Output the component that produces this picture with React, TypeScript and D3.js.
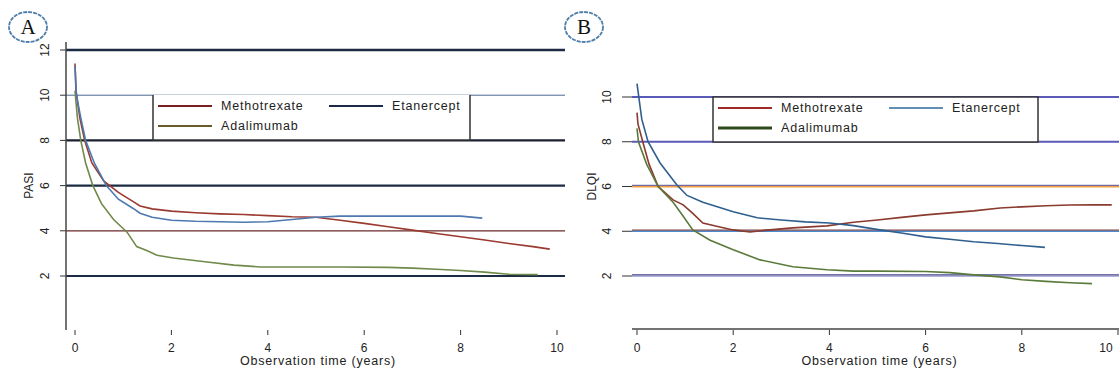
import React from "react";
import * as d3 from "d3";

// x ticks (years) and y ticks for both panels
const xTicks = [0, 2, 4, 6, 8, 10];
const pasiTicks = [2, 4, 6, 8, 10, 12];
const dlqiTicks = [2, 4, 6, 8, 10];
const seriesNames = ["Methotrexate", "Adalimumab", "Etanercept"];

// Panel A – PASI
const pasiMtxT = [0, 0.02, 0.1, 0.2, 0.35, 0.6, 0.9, 1.2, 1.35, 1.6, 2.0, 2.5, 3.0, 3.5, 4.0, 4.5, 5.0, 5.5, 6.0, 6.5, 7.0, 7.5, 8.0, 8.5, 9.0, 9.5, 9.85];
const pasiMtxV = [11.4, 10.2, 9.0, 8.0, 7.0, 6.2, 5.7, 5.3, 5.1, 4.97, 4.87, 4.8, 4.75, 4.72, 4.67, 4.62, 4.6, 4.47, 4.33, 4.18, 4.03, 3.88, 3.74, 3.59, 3.44, 3.3, 3.19];
const pasiEtaT = [0, 0.03, 0.12, 0.22, 0.4, 0.65, 0.9, 1.2, 1.35, 1.6, 2.0, 2.5, 3.0, 3.5, 4.0, 4.5, 5.0, 5.5, 6.0, 7.0, 8.0, 8.45];
const pasiEtaV = [11.3, 10.0, 9.0, 8.0, 7.0, 6.0, 5.4, 5.0, 4.78, 4.6, 4.47, 4.42, 4.4, 4.38, 4.4, 4.5, 4.6, 4.65, 4.65, 4.65, 4.65, 4.56];
const pasiAdaT = [0, 0.05, 0.12, 0.22, 0.37, 0.55, 0.8, 1.08, 1.28, 1.5, 1.7, 2.04, 2.74, 3.3, 3.84, 4.5, 5.5, 6.5, 7.0, 7.5, 8.0, 8.5, 9.0, 9.6];
const pasiAdaV = [10.2, 9.0, 8.0, 7.0, 6.0, 5.2, 4.5, 3.94, 3.3, 3.12, 2.92, 2.8, 2.62, 2.48, 2.4, 2.4, 2.4, 2.38, 2.35, 2.3, 2.24, 2.17, 2.08, 2.06];

// Panel B – DLQI
const dlqiMtxT = [0, 0.02, 0.12, 0.25, 0.44, 0.75, 0.96, 1.16, 1.37, 1.7, 2.0, 2.35, 2.7, 3.24, 3.95, 4.5, 5.0, 5.5, 6.0, 6.5, 7.0, 7.55, 8.0, 8.5, 9.0, 9.5, 9.87];
const dlqiMtxV = [9.3, 8.8, 8.0, 7.0, 6.0, 5.4, 5.18, 4.8, 4.37, 4.2, 4.06, 3.97, 4.05, 4.15, 4.24, 4.4, 4.5, 4.62, 4.73, 4.82, 4.91, 5.04, 5.09, 5.14, 5.17, 5.18, 5.18];
const dlqiEtaT = [0, 0.1, 0.23, 0.48, 0.83, 1.04, 1.37, 2.0, 2.5, 3.0, 3.5, 4.0, 4.5, 5.05, 5.5, 6.0, 6.5, 7.0, 7.5, 8.0, 8.48];
const dlqiEtaV = [10.6, 9.0, 8.0, 7.05, 6.07, 5.6, 5.3, 4.87, 4.6, 4.5, 4.42, 4.37, 4.25, 4.06, 3.92, 3.75, 3.64, 3.53, 3.45, 3.36, 3.28];
const dlqiAdaT = [0, 0.03, 0.2, 0.44, 0.75, 0.95, 1.16, 1.52, 2.0, 2.56, 3.24, 3.95, 4.5, 5.0, 6.0, 6.5, 7.0, 7.55, 8.0, 8.5, 9.0, 9.46];
const dlqiAdaV = [8.6, 8.0, 7.0, 6.0, 5.3, 4.7, 4.06, 3.6, 3.17, 2.72, 2.41, 2.28, 2.22, 2.22, 2.2, 2.15, 2.05, 1.96, 1.83, 1.76, 1.7, 1.66];

const zip = (t: number[], v: number[]) => t.map((d, i) => [d, v[i]] as [number, number]);

type Grid = { v: number; color: string; w: number; over?: string };

function Panel(props: any) {
  const { letter, lx, ly, x0, x10, plotL, plotR, yTop, yTopVal, y2, ticks, grids, series, title, legend, yAxisLine, xAxisLine, yLabelX, yTitleX, tickL } = props;
  const x = d3.scaleLinear().domain([0, 10]).range([x0, x10]);
  const y = d3.scaleLinear().domain([2, yTopVal]).range([y2, yTop]);
  const line = d3.line<[number, number]>().x(d => x(d[0])).y(d => y(d[1]));
  const font = "'Liberation Sans', Arial, sans-serif";
  return (
    <g>
      <ellipse cx={lx} cy={ly} rx={19} ry={15} fill="none" stroke="#4f7eaa" strokeWidth={1.8} strokeDasharray="4 1" />
      <text x={lx} y={ly + 7} textAnchor="middle" fontFamily="'Liberation Serif', serif" fontSize={21} fill="#111">{letter}</text>

      {grids.map((g: Grid) => (
        <g key={g.v}>
          <line x1={plotL} x2={plotR} y1={y(g.v)} y2={y(g.v)} stroke={g.color} strokeWidth={g.w} />
          {g.over && <line x1={plotL} x2={plotR} y1={y(g.v) - 1.2} y2={y(g.v) - 1.2} stroke={g.over} strokeWidth={1} />}
          <line x1={tickL} x2={plotL} y1={y(g.v)} y2={y(g.v)} stroke="#333" strokeWidth={1} />
        </g>
      ))}
      {ticks.map((t: number) => (
        <text key={t} transform={`translate(${yLabelX},${y(t)}) rotate(-90)`} textAnchor="middle" fontFamily={font} fontSize={12} fill="#222">{t}</text>
      ))}

      {yAxisLine && <line x1={plotL} x2={plotL} y1={42} y2={330} stroke="#444" strokeWidth={1.5} />}
      {xAxisLine && <line x1={plotL} x2={plotR} y1={329} y2={329} stroke="#444" strokeWidth={1.5} />}
      {xTicks.map(t => (
        <g key={t}>
          <line x1={x(t)} x2={x(t)} y1={330} y2={335} stroke="#333" />
          <text x={Math.min(x(t), 1106)} y={352} textAnchor="middle" fontFamily={font} fontSize={12} fill="#222">{t}</text>
        </g>
      ))}
      <text x={(x0 + x10) / 2 + 2} y={365} textAnchor="middle" fontFamily={font} fontSize={12.5} letterSpacing={0.8} fill="#222">Observation time (years)</text>
      <text transform={`translate(${yTitleX},${y(6)}) rotate(-90)`} textAnchor="middle" fontFamily={font} fontSize={12} fill="#222">{title}</text>

      {/* legend */}
      <rect x={legend.x1} y={legend.y1} width={legend.x2 - legend.x1} height={legend.y2 - legend.y1} fill="#fff" stroke={legend.top ? "#333" : "none"} strokeWidth={1.5} />
      {!legend.top && (
        <path d={`M${legend.x1},${legend.y1}V${legend.y2}H${legend.x2}V${legend.y1}`} fill="none" stroke="#333" strokeWidth={1.5} />
      )}
      {series.map((s: any, i: number) => {
        const lxp = i === 2 ? legend.x1 + 176 : legend.x1 + 5;
        const lyp = legend.y1 + (i === 1 ? 31 : 11);
        return (
          <g key={s.name}>
            <line x1={lxp} x2={lxp + 54} y1={lyp} y2={lyp} stroke={s.legendColor} strokeWidth={s.legendW} />
            <text x={lxp + 63} y={lyp + 4} fontFamily={font} fontSize={12.5} letterSpacing={0.8} fill="#222">{s.name}</text>
          </g>
        );
      })}

      {series.map((s: any) => (
        <path key={s.name} d={line(s.data) || ""} fill="none" stroke={s.color} strokeWidth={1.6} />
      ))}
    </g>
  );
}

export default function App() {
  const seriesA = [
    { name: seriesNames[0], data: zip(pasiMtxT, pasiMtxV), color: "#9a3a30", legendColor: "#7a1f1f", legendW: 2 },
    { name: seriesNames[1], data: zip(pasiAdaT, pasiAdaV), color: "#6f8a4a", legendColor: "#6a5a2a", legendW: 2 },
    { name: seriesNames[2], data: zip(pasiEtaT, pasiEtaV), color: "#4d78b0", legendColor: "#1c2a4a", legendW: 2 },
  ];
  const seriesB = [
    { name: seriesNames[0], data: zip(dlqiMtxT, dlqiMtxV), color: "#8a3a2e", legendColor: "#a02a2a", legendW: 2 },
    { name: seriesNames[1], data: zip(dlqiAdaT, dlqiAdaV), color: "#5a7a3a", legendColor: "#2e4a1e", legendW: 3 },
    { name: seriesNames[2], data: zip(dlqiEtaT, dlqiEtaV), color: "#2f5f8e", legendColor: "#2f6a9e", legendW: 1.5 },
  ];
  const gridsA: Grid[] = [
    { v: 12, color: "#1c2c44", w: 2.5 },
    { v: 10, color: "#4a6890", w: 1 },
    { v: 8, color: "#1a2030", w: 2.2 },
    { v: 6, color: "#1c2c44", w: 2.2 },
    { v: 4, color: "#6a2828", w: 1.2 },
    { v: 2, color: "#1c2c44", w: 2.2 },
  ];
  const gridsB: Grid[] = [
    { v: 10, color: "#5a5ab8", w: 2 },
    { v: 8, color: "#5a5ab8", w: 2 },
    { v: 6, color: "#f0a040", w: 2, over: "#5050a0" },
    { v: 4, color: "#4a8ad0", w: 1.5, over: "#6a2828" },
    { v: 2, color: "#9a9ad0", w: 1.5, over: "#3a3a80" },
  ];
  return (
    <svg width={1119} height={373} style={{ position: "absolute", left: 0, top: 0, background: "#fff" }}>
      <Panel letter="A" lx={28} ly={27} x0={75} x10={557} plotL={66} plotR={565} yTop={50} yTopVal={12} y2={276}
        ticks={pasiTicks} grids={gridsA} series={seriesA} title="PASI" yAxisLine xAxisLine={false}
        yLabelX={49} yTitleX={33} tickL={60}
        legend={{ x1: 153, x2: 470, y1: 95, y2: 140, top: false }} />
      <Panel letter="B" lx={584} ly={27} x0={637} x10={1118} plotL={632} plotR={1119} yTop={97} yTopVal={10} y2={276}
        ticks={dlqiTicks} grids={gridsB} series={seriesB} title="DLQI" yAxisLine={false} xAxisLine
        yLabelX={611} yTitleX={596} tickL={622}
        legend={{ x1: 713, x2: 1038, y1: 97, y2: 142, top: true }} />
    </svg>
  );
}
